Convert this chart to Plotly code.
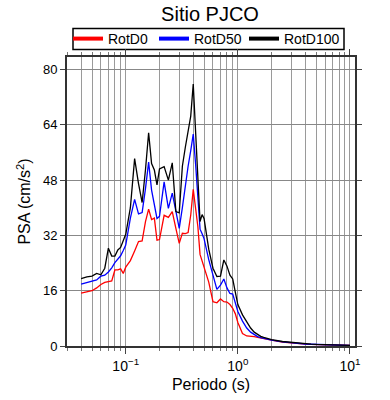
import plotly.graph_objects as go

# ---- data ----
periods = [0.04, 0.045, 0.05, 0.055, 0.06, 0.065, 0.07, 0.075, 0.08, 0.085, 0.09, 0.095, 0.1,
           0.11, 0.12, 0.13, 0.14, 0.15, 0.16, 0.17, 0.18, 0.19, 0.2,
           0.22, 0.24, 0.26, 0.28, 0.3, 0.32, 0.34, 0.36, 0.38, 0.4, 0.42, 0.44, 0.46, 0.48, 0.5,
           0.55, 0.6, 0.65, 0.7, 0.75, 0.8, 0.85, 0.9, 0.95, 1.0,
           1.1, 1.2, 1.3, 1.4, 1.5, 1.6, 1.7, 1.8, 1.9, 2.0,
           2.5, 3.0, 3.5, 4.0, 4.5, 5.0, 5.5, 6.0, 6.5, 7.0, 7.5, 8.0, 8.5, 9.0, 9.5, 10.0]

rotd100 = [19.5, 20.0, 20.2, 21.0, 20.6, 22.5, 28.3, 26.0, 26.0, 27.8, 28.5, 30.5, 32.3,
           40.0, 54.2, 47.0, 41.5, 51.0, 61.7, 52.8, 50.9, 46.6, 51.2,
           51.9, 48.0, 53.0, 38.9, 38.5, 52.0, 57.5, 62.0, 66.5, 75.8, 62.5, 49.5, 36.0, 38.0, 36.8,
           28.0, 22.5, 20.1, 20.2, 24.9, 23.1, 20.5, 19.4, 15.5, 12.0,
           9.0, 7.0, 5.2, 4.0, 3.3, 2.8, 2.5, 2.2, 2.0, 1.85,
           1.3, 1.0, 0.8, 0.65, 0.55, 0.47, 0.41, 0.36, 0.32, 0.29, 0.26, 0.24, 0.22, 0.2, 0.19, 0.18]

rotd50 = [17.9, 18.3, 18.6, 19.1, 20.2, 20.5, 21.4, 22.6, 24.1, 25.0, 26.1, 27.6, 29.2,
          37.0, 42.4, 38.2, 38.6, 45.5, 53.2, 45.1, 40.5, 36.9, 37.5,
          47.5, 39.8, 44.2, 39.0, 34.0, 40.0, 46.5, 52.0, 56.5, 61.3, 52.6, 43.5, 33.8, 32.5, 31.0,
          25.0, 20.5, 16.4, 17.6, 19.4, 16.8, 15.2, 15.0, 12.4, 10.0,
          7.2, 5.2, 4.0, 3.2, 2.7, 2.4, 2.2, 2.0, 1.85, 1.7,
          1.2, 0.9, 0.72, 0.58, 0.5, 0.43, 0.37, 0.33, 0.29, 0.26, 0.24, 0.22, 0.2, 0.18, 0.17, 0.16]

rotd0 = [15.3, 15.6, 16.0, 16.8, 17.8, 18.4, 18.6, 18.8, 22.0, 22.0, 22.3, 21.0, 22.8,
         24.7, 27.5, 30.2, 30.4, 36.0, 39.6, 36.6, 37.0, 30.6, 30.8,
         37.8, 37.2, 38.9, 34.0, 29.7, 32.6, 32.5, 32.8, 37.9, 45.3, 40.5, 34.5, 26.5, 24.5, 22.8,
         18.5, 12.8, 12.5, 13.6, 12.8, 12.7, 12.0, 10.9, 9.3, 6.8,
         3.6, 2.9, 2.9, 2.7, 2.5, 2.3, 2.1, 2.0, 1.85, 1.7,
         1.15, 0.85, 0.68, 0.55, 0.46, 0.4, 0.35, 0.31, 0.27, 0.24, 0.22, 0.2, 0.18, 0.17, 0.16, 0.15]

series_names = ["RotD0", "RotD50", "RotD100"]
series_colors = ["#ff0000", "#0000ff", "#000000"]

x_tickvals = [0.1, 1, 10]
x_ticktext = ["10<sup>\u22121</sup>", "10<sup>0</sup>", "10<sup>1</sup>"]
x_minorvals = [k * 10.0 ** e for e in (-2, -1, 0) for k in range(2, 10)]
y_tickvals = [0, 16, 32, 48, 64, 80]

FONT = "Liberation Sans, Arial, Helvetica, sans-serif"
W, H = 390, 400
ML, MR, MT, MB = 67, 35, 57, 54
PW, PH = W - ML - MR, H - MT - MB
LEGEND_LEFT_PX = [68, 154, 244]   # left edge of each legend entry


def px2paper_x(px):
    return (px - ML) / PW


def px2paper_y(py):
    return (H - MB - py) / PH


fig = go.Figure()
for name, color, vals in zip(series_names, series_colors, [rotd0, rotd50, rotd100]):
    fig.add_trace(go.Scatter(x=periods, y=vals, mode="lines", name=name,
                             line=dict(color=color, width=1.3), showlegend=False))

legend_keys = ["legend", "legend2", "legend3"]
# legend entries (thicker swatches, as in the reference)
for name, color, key in zip(series_names, series_colors, legend_keys):
    fig.add_trace(go.Scatter(x=[None], y=[None], mode="lines", name=name,
                             line=dict(color=color, width=4), showlegend=True, legend=key))

legend_layout = {}
for key, left in zip(legend_keys, LEGEND_LEFT_PX):
    legend_layout[key] = dict(orientation="h", x=left / W, xanchor="left", xref="container",
                              y=1 - 39 / H, yanchor="middle", yref="container",
                              borderwidth=0, bgcolor="rgba(0,0,0,0)",
                              font=dict(size=14, family=FONT, color="#000"),
                              itemclick=False, itemdoubleclick=False)

fig.update_layout(
    width=W, height=H,
    margin=dict(l=ML, r=MR, t=MT, b=MB, autoexpand=False),
    paper_bgcolor="white", plot_bgcolor="white",
    font=dict(family=FONT, color="#000", size=13),
    title=dict(text="Sitio PJCO", x=210 / W, xanchor="center", xref="container",
               y=1 - 14 / H, yanchor="middle", yref="container",
               font=dict(size=20, family=FONT, color="#000")),
    shapes=[dict(type="rect", xref="paper", yref="paper",
                 x0=px2paper_x(73), x1=px2paper_x(344),
                 y0=px2paper_y(49.5), y1=px2paper_y(28.5),
                 line=dict(color="#000", width=1.5), fillcolor="white", layer="below")],
    **legend_layout,
)

fig.update_xaxes(
    type="log", range=[-1.524, 1.045],
    tickmode="array", tickvals=x_tickvals, ticktext=x_ticktext,
    ticks="outside", ticklen=6, tickwidth=1, tickcolor="#444",
    tickfont=dict(size=14, family=FONT),
    showline=True, linewidth=2, linecolor="#333", mirror="ticks",
    showgrid=True, gridcolor="#9a9a9a", gridwidth=1, zeroline=False,
    minor=dict(tickmode="array", tickvals=x_minorvals, ticks="outside", ticklen=3,
               tickcolor="#777", showgrid=True, gridcolor="#9a9a9a", gridwidth=1),
    title=dict(text="Periodo (s)", font=dict(size=16, family=FONT), standoff=6),
)
fig.update_yaxes(
    range=[0, 83.6], tickmode="array", tickvals=y_tickvals,
    ticks="outside", ticklen=5, tickwidth=1, tickcolor="#444",
    tickfont=dict(size=13, family=FONT),
    showline=True, linewidth=2, linecolor="#333", mirror="ticks",
    showgrid=True, gridcolor="#888", gridwidth=1, zeroline=False,
    title=dict(text="PSA (cm/s<sup>2</sup>)", font=dict(size=16, family=FONT), standoff=8),
)

fig.write_html("out.html", config={"displayModeBar": False},
               post_script="document.body.style.margin='0';")
